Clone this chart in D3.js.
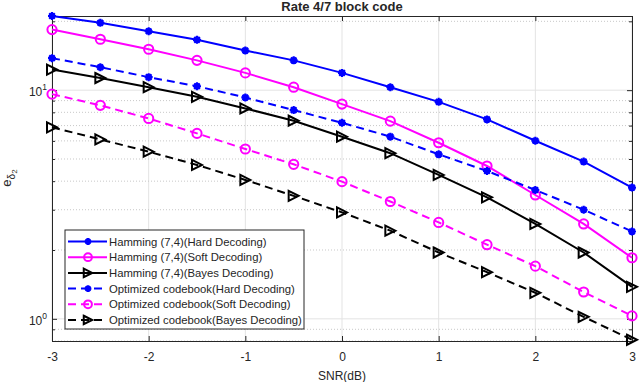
<!DOCTYPE html>
<html>
<head>
<meta charset="utf-8">
<script src="https://cdn.jsdelivr.net/npm/d3@7"></script>
<style>
  body { margin: 0; background: #fff; }
  text { font-family: "Liberation Sans", Arial, sans-serif; fill: #262626; }
</style>
</head>
<body>
<script>
// SNR points (dB)
const snr = [-3, -2.5, -2, -1.5, -1, -0.5, 0, 0.5, 1, 1.5, 2, 2.5, 3];

// e_delta2 values
const hammingHard  = [21.1, 19.7, 18.1, 16.6, 14.9, 13.5, 11.9, 10.3, 8.89, 7.45, 6.01, 4.87, 3.75];
const hammingSoft  = [18.4, 16.7, 15.1, 13.5, 11.9, 10.3, 8.69, 7.32, 5.89, 4.66, 3.48, 2.60, 1.85];
const hammingBayes = [12.3, 11.3, 10.3, 9.35, 8.32, 7.35, 6.26, 5.30, 4.26, 3.40, 2.60, 1.95, 1.38];
const optHard      = [13.8, 12.6, 11.4, 10.4, 9.29, 8.18, 7.20, 6.26, 5.24, 4.43, 3.66, 3.00, 2.41];
const optSoft      = [9.61, 8.58, 7.52, 6.47, 5.53, 4.74, 3.98, 3.26, 2.64, 2.11, 1.70, 1.31, 1.03];
const optBayes     = [6.88, 6.09, 5.38, 4.71, 4.05, 3.45, 2.92, 2.43, 1.95, 1.60, 1.30, 1.02, 0.81];

const seriesNames = [
  "Hamming (7,4)(Hard Decoding)",
  "Hamming (7,4)(Soft Decoding)",
  "Hamming (7,4)(Bayes Decoding)",
  "Optimized codebook(Hard Decoding)",
  "Optimized codebook(Soft Decoding)",
  "Optimized codebook(Bayes Decoding)"
];
const xTicks = [-3, -2, -1, 0, 1, 2, 3];
const yMajor = [1, 10];
const yMinor = [0.8, 0.9, 2, 3, 4, 5, 6, 7, 8, 9, 20];

const series = [
  {name: seriesNames[0], values: hammingHard,  color: "#0000ff", dash: null,  marker: "star"},
  {name: seriesNames[1], values: hammingSoft,  color: "#ff00ff", dash: null,  marker: "circle"},
  {name: seriesNames[2], values: hammingBayes, color: "#000000", dash: null,  marker: "tri"},
  {name: seriesNames[3], values: optHard,      color: "#0000ff", dash: "8,5", marker: "star"},
  {name: seriesNames[4], values: optSoft,      color: "#ff00ff", dash: "8,5", marker: "circle"},
  {name: seriesNames[5], values: optBayes,     color: "#000000", dash: "8,5", marker: "tri"}
];

const W = 640, H = 382;
const L = 52, R = 632, T = 16, B = 341;

const svg = d3.select("body").append("svg").attr("width", W).attr("height", H);

const x = d3.scaleLinear().domain([-3, 3]).range([L, R]);
const y = d3.scaleLog().domain([0.8, 21.1]).range([B, T]);

// grid
const grid = svg.append("g");
grid.selectAll(".gx").data(xTicks).enter().append("line")
  .attr("x1", d => x(d)).attr("x2", d => x(d)).attr("y1", T).attr("y2", B)
  .attr("stroke", "#e3e3e3").attr("stroke-width", 1);
grid.selectAll(".gy").data(yMajor).enter().append("line")
  .attr("x1", L).attr("x2", R).attr("y1", d => y(d)).attr("y2", d => y(d))
  .attr("stroke", "#e3e3e3").attr("stroke-width", 1);
grid.selectAll(".gm").data(yMinor).enter().append("line")
  .attr("x1", L).attr("x2", R).attr("y1", d => y(d)).attr("y2", d => y(d))
  .attr("stroke", "#c8c8c8").attr("stroke-width", 1).attr("stroke-dasharray", "1,2");

// axes (box with inward ticks)
const xAxB = d3.axisBottom(x).tickValues(xTicks).tickSize(-5).tickPadding(11).tickFormat(d => String(d));
const xAxT = d3.axisTop(x).tickValues(xTicks).tickSize(-5).tickFormat("");
const yAxL = d3.axisLeft(y).tickValues(yMajor).tickSize(-5).tickFormat("");
const yAxR = d3.axisRight(y).tickValues(yMajor).tickSize(-5).tickFormat("");
const yMinL = d3.axisLeft(y).tickValues(yMinor).tickSize(-3).tickFormat("");
const yMinR = d3.axisRight(y).tickValues(yMinor).tickSize(-3).tickFormat("");

function styleAxis(g) {
  g.select(".domain").attr("stroke", "#262626").attr("stroke-width", 1);
  g.selectAll(".tick line").attr("stroke", "#262626");
  g.selectAll(".tick text").attr("font-size", 12).attr("fill", "#262626")
    .attr("font-family", "Liberation Sans, Arial, sans-serif");
}
svg.append("g").attr("transform", `translate(0,${B})`).call(xAxB).call(styleAxis);
svg.append("g").attr("transform", `translate(0,${T})`).call(xAxT).call(styleAxis);
svg.append("g").attr("transform", `translate(${L},0)`).call(yAxL).call(styleAxis);
svg.append("g").attr("transform", `translate(${R},0)`).call(yAxR).call(styleAxis);
svg.append("g").attr("transform", `translate(${L},0)`).call(yMinL).call(styleAxis).select(".domain").remove();
svg.append("g").attr("transform", `translate(${R},0)`).call(yMinR).call(styleAxis).select(".domain").remove();

// y tick labels 10^0, 10^1
yMajor.forEach(v => {
  const t = svg.append("text").attr("x", 47).attr("y", y(v) + 6)
    .attr("text-anchor", "end").attr("font-size", 12);
  t.append("tspan").text("10");
  t.append("tspan").attr("dy", -6).attr("font-size", 8.5).text(Math.round(Math.log10(v)));
});

// markers
function drawMarker(g, type, cx, cy, color, k) {
  k = k || 1;
  if (type === "circle") {
    g.append("circle").attr("cx", cx).attr("cy", cy).attr("r", 4.6 * k)
      .attr("fill", "none").attr("stroke", color).attr("stroke-width", 2);
  } else if (type === "tri") {
    const s = 5 * k;
    g.append("path")
      .attr("d", `M${cx - s},${cy - s}L${cx + s},${cy}L${cx - s},${cy + s}Z`)
      .attr("fill", "none").attr("stroke", color).attr("stroke-width", 2).attr("stroke-linejoin", "miter");
  } else {
    const s = 4 * k;
    g.append("path")
      .attr("d", `M${cx - s},${cy}L${cx + s},${cy}M${cx},${cy - s}L${cx},${cy + s}` +
                 `M${cx - s * 0.7},${cy - s * 0.7}L${cx + s * 0.7},${cy + s * 0.7}` +
                 `M${cx - s * 0.7},${cy + s * 0.7}L${cx + s * 0.7},${cy - s * 0.7}`)
      .attr("stroke", color).attr("stroke-width", 2.2);
    g.append("circle").attr("cx", cx).attr("cy", cy).attr("r", 3.2 * k).attr("fill", color);
  }
}

const line = d3.line().x((d, i) => x(snr[i])).y(d => y(d));
const plot = svg.append("g");
series.forEach(s => {
  plot.append("path").datum(s.values).attr("d", line)
    .attr("fill", "none").attr("stroke", s.color).attr("stroke-width", 2)
    .attr("stroke-dasharray", s.dash);
  const mg = plot.append("g");
  s.values.forEach((v, i) => drawMarker(mg, s.marker, x(snr[i]), y(v), s.color));
});

// title and labels
svg.append("text").attr("x", (L + R) / 2).attr("y", 11).attr("text-anchor", "middle")
  .attr("font-size", 13).attr("font-weight", "bold").attr("fill", "#000").text("Rate 4/7 block code");
svg.append("text").attr("x", (L + R) / 2).attr("y", 380).attr("text-anchor", "middle")
  .attr("font-size", 12).text("SNR(dB)");
const yl = svg.append("text").attr("transform", "translate(11,178) rotate(-90)")
  .attr("text-anchor", "middle").attr("font-size", 13);
yl.append("tspan").text("e");
yl.append("tspan").attr("dy", 4).attr("font-size", 10).text("δ");
yl.append("tspan").attr("dy", 2).attr("font-size", 8).text("2");

// legend
const lg = svg.append("g");
lg.append("rect").attr("x", 65).attr("y", 230).attr("width", 239).attr("height", 99)
  .attr("fill", "#fff").attr("stroke", "#262626").attr("stroke-width", 1);
series.forEach((s, i) => {
  const ly = 241.5 + i * 15.7;
  lg.append("line").attr("x1", 68).attr("x2", 107).attr("y1", ly).attr("y2", ly)
    .attr("stroke", s.color).attr("stroke-width", 2).attr("stroke-dasharray", s.dash);
  drawMarker(lg, s.marker, 88, ly, s.color, 0.85);
  lg.append("text").attr("x", 109).attr("y", ly + 4).attr("font-size", 11.3)
    .attr("fill", "#000").text(s.name);
});
</script>
</body>
</html>
